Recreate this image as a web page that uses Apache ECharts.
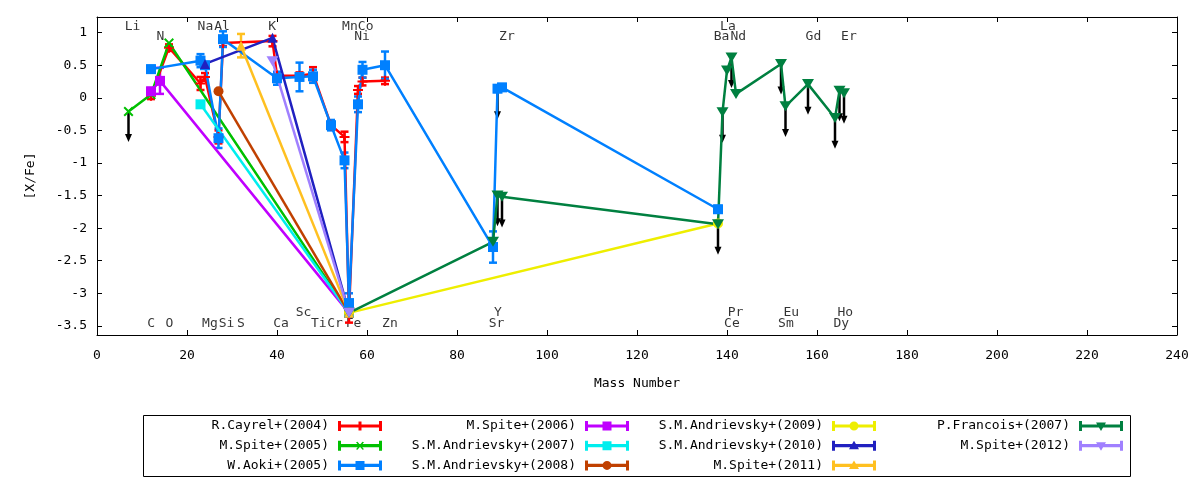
<!DOCTYPE html>
<html>
<head>
<meta charset="utf-8">
<script src="https://cdn.jsdelivr.net/npm/echarts@6.0.0/dist/echarts.min.js"></script>
<style>
html, body { margin: 0; padding: 0; background: #fff; }
#main { width: 1200px; height: 480px; }
</style>
</head>
<body>
<div id="main"></div>
<script>
var FONT = 'DejaVu Sans Mono';

// mass number used for each element
var elemNames = ['Li','C','N','O','Na','Mg','Al','Si','S','K','Ca','Sc','Ti','Cr','Mn','Fe','Ni','Co','Zn',
	'Sr','Y','Zr','Ba','La','Ce','Pr','Nd','Sm','Eu','Gd','Dy','Ho','Er'];
var elemMass = [7,12,14,16,23,24,27,28,32,39,40,45,48,52,55,56,58,59,64,
	88,89,90,138,139,140,141,142,152,153,158,164,165,166];

// axis ticks
var xTicks = [0,20,40,60,80,100,120,140,160,180,200,220,240];
var yTicks = [1,0.5,0,-0.5,-1,-1.5,-2,-2.5,-3,-3.5];

// element name labels (4 rows)
var labRowY = [1.09, 0.94, -3.47, -3.29];
var labRow1 = ['Li','Na','Al','K','Mn','Co','La'];
var labRow1X = [7.9,24.1,27.8,38.9,56.2,59.7,140.2];
var labRow2 = ['N','Ni','Zr','Ba','Nd','Gd','Er'];
var labRow2X = [14.1,58.9,91.1,138.8,142.5,159.2,167.1];
var labRow3 = ['C','O','Mg','Si','S','Ca','Ti','Cr','Fe','Zn','Sr','Ce','Sm','Dy'];
var labRow3X = [12.05,16.1,25.1,28.8,32.0,40.9,49.3,52.9,57.0,65.1,88.8,141.1,153.1,165.4];
var labRow4 = ['Sc','Y','Pr','Eu','Ho'];
var labRow4X = [45.9,89.1,141.9,154.3,166.3];

// R.Cayrel+(2004)
var cayrelEl  = ['C','O','Na','Mg','Al','Si','K','Ca','Sc','Ti','Cr','Mn','Fe','Ni','Co','Zn'];
var cayrelVal = [0.03,0.77,0.22,0.32,-0.6,0.84,0.87,0.34,0.34,0.37,-0.42,-0.6,-3.3,0.12,0.25,0.26];
var cayrelErr = [0.05,0.05,0.1,0.06,0.1,0.05,0.08,0.05,0.05,0.1,0.05,0.08,0.15,0.06,0.06,0.05];
// M.Spite+(2005)
var spite05El  = ['Li','C','O','Fe'];
var spite05Val = [-0.21,0.05,0.84,-3.3];
var spite05UL  = ['Li'];
// W.Aoki+(2005)
var aokiEl  = ['C','Na','Mg','Al','Si','Ca','Sc','Ti','Cr','Mn','Fe','Ni','Co','Zn','Sr','Y','Zr','Ba'];
var aokiVal = [0.44,0.57,0.5,-0.62,0.9,0.3,0.32,0.33,-0.42,-0.96,-3.15,-0.1,0.43,0.5,-2.29,0.14,0.16,-1.71];
var aokiErr = [0.05,0.1,0.05,0.15,0.12,0.1,0.22,0.1,0.08,0.12,0.15,0.12,0.12,0.21,0.24,0.05,0.05,0.05];
var aokiUL  = ['Y'];
// M.Spite+(2006)
var spite06El  = ['C','N','Fe'];
var spite06Val = [0.1,0.26,-3.3];
var spite06Err = [0.05,0.2,0];
// S.M.Andrievsky+(2007)
var andr07El  = ['Na','Fe'];
var andr07Val = [-0.1,-3.3];
// S.M.Andrievsky+(2008)
var andr08El  = ['Al','Fe'];
var andr08Val = [0.1,-3.3];
// S.M.Andrievsky+(2009)
var andr09El  = ['Fe','Ba'];
var andr09Val = [-3.3,-1.93];
// S.M.Andrievsky+(2010)
var andr10El  = ['Mg','K','Fe'];
var andr10Val = [0.52,0.92,-3.3];
// M.Spite+(2011)
var spite11El  = ['S','Fe'];
var spite11Val = [0.8,-3.3];
var spite11Err = [0.18,0];
// P.Francois+(2007)
var francoisEl  = ['Fe','Sr','Y','Zr','Ba','La','Ce','Pr','Nd','Sm','Eu','Gd','Dy','Ho','Er'];
var francoisVal = [-3.3,-2.21,-1.5,-1.52,-1.94,-0.22,0.42,0.62,0.06,0.52,-0.13,0.21,-0.31,0.11,0.07];
var francoisUL  = ['Y','Zr','Ba','La','Pr','Sm','Eu','Gd','Dy','Ho','Er'];
// M.Spite+(2012)
var spite12El  = ['K','Fe'];
var spite12Val = [0.56,-3.3];

var ARROW_LEN = 0.47;

// marker shapes (chart) and legend samples
var symPlus = 'path://M4 0H6V4H10V6H6V10H4V6H0V4H4Z';
var symX = 'path://M0 1.4L1.4 0L5 3.6L8.6 0L10 1.4L6.4 5L10 8.6L8.6 10L5 6.4L1.4 10L0 8.6L3.6 5Z';
var symInvTri = 'path://M0 0H10L5 9Z';
var bar = 'M0 0H3V10H0Z M41 0H44V10H41Z M0 3.4H44V6.6H0Z ';
var icPlus = 'path://' + bar + 'M20.5 0.5H23.5V9.5H20.5Z';
var icX = 'path://' + bar + 'M18 1.5L19.5 1L22 4L24.5 1L26 1.5L23 5L26 8.5L24.5 9L22 6L19.5 9L18 8.5L21 5Z';
var icRect = 'path://' + bar + 'M17.5 0.5H26.5V9.5H17.5Z';
var icCircle = 'path://' + bar + 'M22 0.5A4.5 4.5 0 1 1 22 9.5A4.5 4.5 0 1 1 22 0.5Z';
var icTri = 'path://' + bar + 'M22 0L27 8.5H17Z';
var icInvTri = 'path://' + bar + 'M17 1.5H27L22 10Z';

var sets = [
	{ name: 'R.Cayrel+(2004)', color: '#ff0000', symbol: symPlus, size: 10, icon: icPlus, el: cayrelEl, val: cayrelVal, err: cayrelErr },
	{ name: 'M.Spite+(2005)', color: '#00c000', symbol: symX, size: 10, icon: icX, el: spite05El, val: spite05Val, ul: spite05UL },
	{ name: 'W.Aoki+(2005)', color: '#0080ff', symbol: 'rect', size: 10, icon: icRect, el: aokiEl, val: aokiVal, err: aokiErr, ul: aokiUL },
	{ name: 'M.Spite+(2006)', color: '#c000ff', symbol: 'rect', size: 10, icon: icRect, el: spite06El, val: spite06Val, err: spite06Err },
	{ name: 'S.M.Andrievsky+(2007)', color: '#00eeee', symbol: 'rect', size: 10, icon: icRect, el: andr07El, val: andr07Val },
	{ name: 'S.M.Andrievsky+(2008)', color: '#c04000', symbol: 'circle', size: 10, icon: icCircle, el: andr08El, val: andr08Val },
	{ name: 'S.M.Andrievsky+(2009)', color: '#eeee00', symbol: 'circle', size: 10, icon: icCircle, el: andr09El, val: andr09Val },
	{ name: 'S.M.Andrievsky+(2010)', color: '#2020c0', symbol: 'triangle', size: 10, icon: icTri, el: andr10El, val: andr10Val },
	{ name: 'M.Spite+(2011)', color: '#ffc020', symbol: 'triangle', size: 10, icon: icTri, el: spite11El, val: spite11Val, err: spite11Err },
	{ name: 'P.Francois+(2007)', color: '#008040', symbol: symInvTri, size: [12, 10], icon: icInvTri, el: francoisEl, val: francoisVal, ul: francoisUL },
	{ name: 'M.Spite+(2012)', color: '#a080ff', symbol: symInvTri, size: [12, 10], icon: icInvTri, el: spite12El, val: spite12Val }
];
var legendCols = [[0, 1, 2], [3, 4, 5], [6, 7, 8], [9, 10]];
var legendRight = [818, 571, 324, 77];

function massOf(el) {
	return elemMass[elemNames.indexOf(el)];
}

var chart = echarts.init(document.getElementById('main'), null, { renderer: 'canvas' });

// element labels
var labelData = [];
[[labRow1, labRow1X], [labRow2, labRow2X], [labRow3, labRow3X], [labRow4, labRow4X]].forEach(function(row, r) {
	for (var i = 0; i < row[0].length; i++) {
		labelData.push({ name: row[0][i], value: [row[1][i], labRowY[r]] });
	}
});

// upper limit arrows
var arrowData = [];
sets.forEach(function(s) {
	(s.ul || []).forEach(function(el) {
		arrowData.push([massOf(el), s.val[s.el.indexOf(el)]]);
	});
});

var series = [{
	type: 'scatter',
	name: 'labels',
	data: labelData,
	symbolSize: 1,
	itemStyle: { color: 'rgba(0,0,0,0)' },
	label: { show: true, position: 'inside', formatter: '{b}', color: '#000', fontFamily: FONT, fontSize: 13 },
	silent: true,
	z: 1
}, {
	type: 'custom',
	name: 'limits',
	data: arrowData,
	encode: { x: 0, y: 1 },
	clip: true,
	silent: true,
	z: 2,
	renderItem: function(params, api) {
		var p0 = api.coord([api.value(0), api.value(1)]);
		var p1 = api.coord([api.value(0), api.value(1) - ARROW_LEN]);
		return {
			type: 'group',
			children: [{
				type: 'line',
				shape: { x1: p0[0], y1: p0[1], x2: p1[0], y2: p1[1] - 6 },
				style: { stroke: '#000', lineWidth: 2.5 }
			}, {
				type: 'polygon',
				shape: { points: [[p1[0] - 3.5, p1[1] - 8], [p1[0] + 3.5, p1[1] - 8], [p1[0], p1[1]]] },
				style: { fill: '#000' }
			}]
		};
	}
}];

sets.forEach(function(s) {
	var pts = [];
	var errs = [];
	for (var i = 0; i < s.el.length; i++) {
		pts.push([massOf(s.el[i]), s.val[i]]);
		if (s.err && s.err[i] > 0) errs.push([massOf(s.el[i]), s.val[i], s.err[i]]);
	}
	if (errs.length) {
		series.push({
			type: 'custom',
			name: s.name + ' err',
			data: errs,
			encode: { x: 0, y: 1 },
			clip: true,
			silent: true,
			z: 3,
			renderItem: function(params, api) {
				var x = api.value(0), y = api.value(1), e = api.value(2);
				var hi = api.coord([x, y + e]);
				var lo = api.coord([x, y - e]);
				var st = { stroke: s.color, lineWidth: 2.5 };
				return {
					type: 'group',
					children: [
						{ type: 'line', shape: { x1: hi[0], y1: hi[1], x2: lo[0], y2: lo[1] }, style: st },
						{ type: 'line', shape: { x1: hi[0] - 4, y1: hi[1], x2: hi[0] + 4, y2: hi[1] }, style: st },
						{ type: 'line', shape: { x1: lo[0] - 4, y1: lo[1], x2: lo[0] + 4, y2: lo[1] }, style: st }
					]
				};
			}
		});
	}
	series.push({
		type: 'line',
		name: s.name,
		data: pts,
		symbol: s.symbol,
		symbolSize: s.size,
		showSymbol: true,
		showAllSymbol: true,
		itemStyle: { color: s.color, borderWidth: 0 },
		lineStyle: { color: s.color, width: 2.5 },
		emphasis: { disabled: true },
		silent: true,
		z: 3
	});
});

var axisLineStyle = { color: '#000', width: 1 };

var option = {
	animation: false,
	backgroundColor: '#fff',
	grid: { left: 97, right: 23, top: 17, bottom: 145 },
	xAxis: [{
		type: 'value', min: 0, max: 240, interval: 20, position: 'bottom',
		axisLine: { onZero: false, lineStyle: axisLineStyle },
		axisTick: { inside: true, length: 5, lineStyle: axisLineStyle },
		axisLabel: { color: '#000', fontFamily: FONT, fontSize: 13, margin: 14,
			customValues: xTicks },
		splitLine: { show: false },
		name: 'Mass Number', nameLocation: 'middle', nameGap: 42,
		nameTextStyle: { color: '#000', fontFamily: FONT, fontSize: 13 }
	}, {
		type: 'value', min: 0, max: 240, interval: 20, position: 'top',
		axisLine: { onZero: false, lineStyle: axisLineStyle },
		axisTick: { inside: true, length: 5, lineStyle: axisLineStyle },
		axisLabel: { show: false },
		splitLine: { show: false }
	}],
	yAxis: [{
		type: 'value', min: -3.64, max: 1.24, position: 'left',
		axisLine: { show: true, onZero: false, lineStyle: axisLineStyle },
		axisTick: { show: true, inside: true, length: 5, lineStyle: axisLineStyle, customValues: yTicks },
		axisLabel: { color: '#000', fontFamily: FONT, fontSize: 13, margin: 10, customValues: yTicks },
		splitLine: { show: false },
		name: '[X/Fe]', nameLocation: 'middle', nameGap: 60, nameRotate: 90,
		nameTextStyle: { color: '#000', fontFamily: FONT, fontSize: 13 }
	}, {
		type: 'value', min: -3.64, max: 1.24, position: 'right',
		axisLine: { show: true, onZero: false, lineStyle: axisLineStyle },
		axisTick: { show: true, inside: true, length: 5, lineStyle: axisLineStyle, customValues: yTicks },
		axisLabel: { show: false },
		splitLine: { show: false }
	}],
	legend: legendCols.map(function(col, i) {
		return {
			orient: 'vertical',
			align: 'right',
			right: legendRight[i],
			top: 419,
			padding: 0,
			itemGap: 5.7,
			itemWidth: 44,
			itemHeight: 10,
			selectedMode: false,
			textStyle: { color: '#000', fontFamily: FONT, fontSize: 13, lineHeight: 14, padding: [0, 4, 0, 0] },
			data: col.map(function(k) { return { name: sets[k].name, icon: sets[k].icon }; })
		};
	}),
	graphic: [{
		type: 'rect',
		shape: { x: 143.5, y: 415.5, width: 987, height: 61 },
		style: { fill: 'none', stroke: '#000', lineWidth: 1 },
		silent: true
	}],
	series: series
};

chart.setOption(option);
</script>
</body>
</html>
